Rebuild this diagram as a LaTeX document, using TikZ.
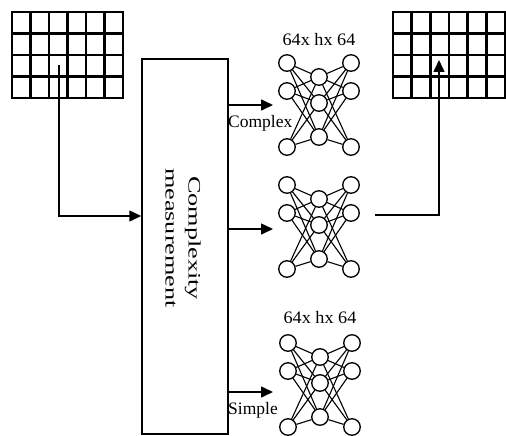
\documentclass[tikz,border=0pt]{standalone}
\usepackage{fontspec}
\setmainfont{Liberation Serif}
\usetikzlibrary{arrows.meta}

\tikzset{
  gridline/.style={line width=2.6pt, line cap=rect},
  neuron/.style={circle, draw, line width=1.3pt, minimum size=16.5pt, inner sep=0pt},
  synapse/.style={line width=1.1pt},
  flow/.style={line width=1.5pt, -{Triangle[length=12pt,width=11pt]}},
  caption/.style={font=\fontsize{17.5}{19}\selectfont, inner sep=0pt},
  branch/.style={font=\fontsize{17.5}{19}\selectfont, inner sep=0pt},
  procbox/.style={draw, line width=1.5pt, inner sep=0pt},
}

% 6 x 4 cell grid; #1 name, (#2,#3) top-left corner, #4 cell width, #5 cell height
\newcommand\cellgrid[5]{%
  \node[inner sep=0pt, minimum width=6*#4 pt, minimum height=4*#5 pt, anchor=north west] (#1) at (#2,#3) {};
  \foreach \i in {0,...,6}{
    \draw[gridline] (#2+\i*#4,#3) -- (#2+\i*#4,#3+4*#5);
  }
  \foreach \j in {0,...,4}{
    \draw[gridline] (#2,#3+\j*#5) -- (#2+6*#4,#3+\j*#5);
  }
}

% three-layer fully connected net; #1 name, (#2,#3) centre of the top-left neuron
\newcommand\mlpnet[3]{%
  \foreach \i/\dy in {1/0,2/28,3/84}{
    \node[neuron] (#1-l\i) at (#2,#3+\dy) {};
    \node[neuron] (#1-r\i) at (#2+64,#3+\dy) {};
  }
  \foreach \i/\dy in {1/14,2/40,3/74}{
    \node[neuron] (#1-m\i) at (#2+32,#3+\dy) {};
  }
  \foreach \a in {1,2,3}{
    \foreach \b in {1,2,3}{
      \draw[synapse] (#1-l\a) -- (#1-m\b);
      \draw[synapse] (#1-m\b) -- (#1-r\a);
    }
  }
}

\begin{document}
\begin{tikzpicture}[x=1pt, y=-1pt]
\useasboundingbox (0,0) rectangle (506,436);

% input and output grids
\cellgrid{ingrid}{12}{12}{18.5}{21.5}
\cellgrid{outgrid}{393}{12}{18.67}{21.5}

% complexity measurement block
\node[procbox, minimum width=86pt, minimum height=375pt] (box) at (185,246.5) {};
\node[caption, rotate=-90, align=center] (boxtext) at (183,238)
  {\scalebox{1.5}[1]{Complexity}\\[4pt]\scalebox{1.5}[1]{measurement}};

% networks
\mlpnet{top}{287}{63}
\mlpnet{mid}{287}{185}
\mlpnet{bot}{288}{343}

\node[caption] (toptitle) at (319,40) {\scalebox{1.04}[1]{64x hx 64}};
\node[caption] (bottitle) at (320,318) {\scalebox{1.04}[1]{64x hx 64}};

% routing from the block to the networks
\coordinate (o1) at (273,105);
\coordinate (o2) at (273,229);
\coordinate (o3) at (273,392);
\draw[flow] (box.east |- o1) -- (o1);
\draw[flow] (box.east |- o2) -- (o2);
\draw[flow] (box.east |- o3) -- (o3);
\node[branch, anchor=west] (lblc) at (228,123) {Complex};
\node[branch, anchor=west] (lbls) at (228,410) {Simple};

% input grid to block
\coordinate (instart) at (59,65);
\coordinate (inbend) at (59,216);
\draw[flow] (instart) -- (inbend) -- (box.west |- inbend);

% middle network back to the output grid
\coordinate (outstart) at (375,215);
\coordinate (outbend) at (439,215);
\coordinate (outend) at (439,60);
\draw[flow] (outstart) -- (outbend) -- (outend);
\end{tikzpicture}
\end{document}
